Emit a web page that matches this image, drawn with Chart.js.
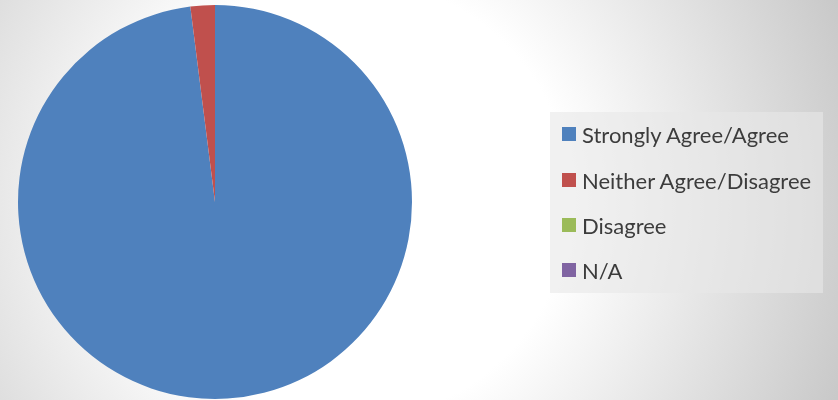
<!DOCTYPE html>
<html>
<head>
<meta charset="utf-8">
<script src="https://cdn.jsdelivr.net/npm/chart.js@4/dist/chart.umd.min.js"></script>
<style>
  html, body { margin: 0; padding: 0; }
  #wrap {
    position: relative; width: 838px; height: 400px; overflow: hidden;
    background: radial-gradient(circle 530px at 350px 200px, #ffffff 0px, #ffffff 220px, #c8c8c8 530px);
  }
  #chartPie { position: absolute; left: 0; top: 0; }
  #legendBox {
    position: absolute; left: 550px; top: 112px; width: 273px; height: 181px;
    background: rgba(232,232,232,0.6);
  }
  .lg-item {
    position: absolute; left: 12px; height: 24px; display: flex; align-items: center;
    font-family: Lato, "Open Sans", sans-serif; font-size: 22px; color: #3c3c3c; white-space: nowrap;
  }
  .lg-box { width: 14px; height: 14px; margin-right: 6px; flex: none; }
</style>
</head>
<body>
<div id="wrap">
  <canvas id="chartPie" width="838" height="400"></canvas>
  <div id="legendBox"></div>
</div>
<script>
// Survey response split
const categories = ['Strongly Agree/Agree', 'Neither Agree/Disagree', 'Disagree', 'N/A'];
const responses = [98, 2, 0, 0];
const sliceColors = ['#4f81bd', '#c0504d', '#9bbb59', '#8064a2'];

document.addEventListener('DOMContentLoaded', () => {
  const ctx = document.getElementById('chartPie');
  const chart = new Chart(ctx.getContext('2d'), {
    type: 'pie',
    data: {
      labels: categories,
      datasets: [{
        data: responses,
        backgroundColor: sliceColors,
        borderWidth: 0
      }]
    },
    options: {
      responsive: false,
      animation: false,
      layout: { padding: { left: 18, right: 426, top: 5, bottom: 1 } },
      plugins: { legend: { display: false }, tooltip: { enabled: false } }
    }
  });

  // Legend built from the pie's own label items
  const box = document.getElementById('legendBox');
  const items = chart.options.plugins.legend.labels.generateLabels(chart);
  const rowCenters = [22, 68, 113, 158];
  items.forEach((it, i) => {
    const row = document.createElement('div');
    row.className = 'lg-item';
    row.style.top = (rowCenters[i] - 12) + 'px';
    const sw = document.createElement('span');
    sw.className = 'lg-box';
    sw.style.background = it.fillStyle;
    const tx = document.createElement('span');
    tx.textContent = it.text;
    row.appendChild(sw); row.appendChild(tx);
    box.appendChild(row);
  });
});
</script>
</body>
</html>
